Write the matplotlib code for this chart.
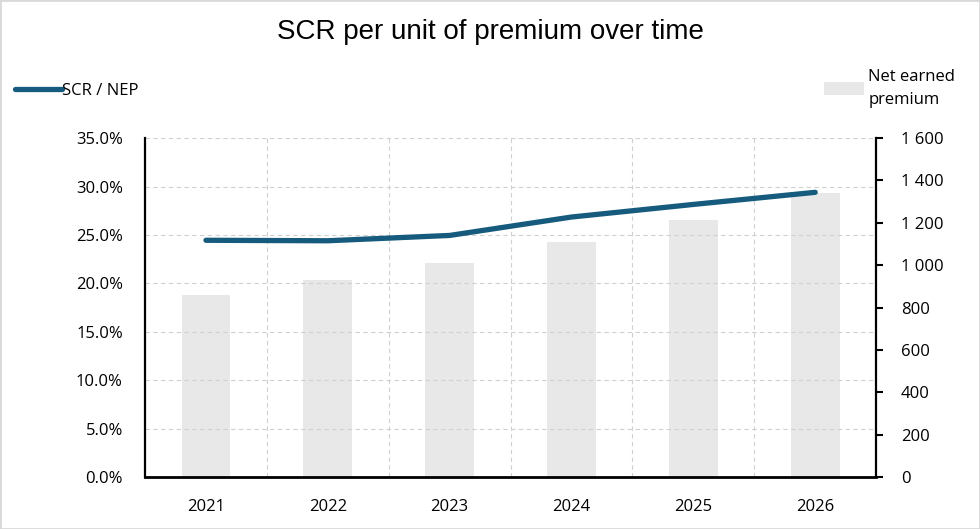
import numpy as np
import matplotlib.pyplot as plt
from matplotlib.ticker import FuncFormatter, FixedLocator

# data
years = ['2021', '2022', '2023', '2024', '2025', '2026']
nep = [860, 930, 1010, 1108, 1212, 1340]
scr_nep = [0.2445, 0.2440, 0.2495, 0.2685, 0.2815, 0.2940]

line_col = '#165b7d'
bar_col = '#e8e8e8'
tick_font = 'Open Sans'

fig = plt.figure(figsize=(9.8, 5.29), dpi=100)
ax = fig.add_axes([0.148, 0.098, 0.746, 0.641])
ax2 = ax.twinx()

x = np.arange(len(years))

# bars on the right axis, line on the left axis
ax2.bar(x, nep, width=0.4, color=bar_col, zorder=1, label='Net earned\npremium')
ax2.set_ylim(0, 1600)
ax2.set_yticks(np.arange(0, 1601, 200))
ax2.yaxis.set_major_formatter(FuncFormatter(lambda v, p: f'{int(v):,}'.replace(',', ' ')))

ax.set_zorder(ax2.get_zorder() + 1)
ax.patch.set_visible(False)
ax.plot(x, scr_nep, color=line_col, lw=3.8, solid_capstyle='round', zorder=5, label='SCR / NEP')
ax.set_ylim(0, 0.35)
ax.set_yticks(np.arange(0, 0.351, 0.05))
ax.yaxis.set_major_formatter(FuncFormatter(lambda v, p: f'{v*100:.1f}%'))
ax.set_xlim(-0.5, 5.5)
ax.set_xticks(x)
ax.set_xticklabels(years)

# dashed grid: horizontal at each tick, vertical between categories
ax.xaxis.set_minor_locator(FixedLocator(x[:-1] + 0.5))
ax.grid(True, axis='y', which='major', ls=(0, (4, 3)), color='#d0d0d0', lw=0.8)
ax.grid(True, axis='x', which='minor', ls=(0, (4, 3)), color='#d0d0d0', lw=0.8)
ax.set_axisbelow(True)
ax2.set_axisbelow(True)

for a in (ax, ax2):
    a.spines['top'].set_visible(False)
    for s in ('left', 'right', 'bottom'):
        a.spines[s].set_color('black')
ax.spines['bottom'].set_linewidth(2)
ax.spines['left'].set_linewidth(1.6)
ax2.spines['right'].set_linewidth(1.6)
ax2.spines['bottom'].set_visible(False)
ax2.spines['left'].set_visible(False)
ax.spines['right'].set_visible(False)

ax.tick_params(axis='y', length=0, pad=16, labelsize=12)
ax.tick_params(axis='x', which='both', length=0, pad=16, labelsize=12)
ax2.tick_params(axis='y', length=5, width=1.5, direction='out', pad=13, labelsize=12)
for lbl in ax.get_yticklabels() + ax.get_xticklabels() + ax2.get_yticklabels():
    lbl.set_fontfamily(tick_font)

fig.text(0.5, 0.94, 'SCR per unit of premium over time', ha='center', va='center',
         fontsize=20, family='Liberation Sans')

fig.legend(handles=ax.get_lines(), loc='center left', bbox_to_anchor=(0.0, 0.828),
           frameon=False, handlelength=2.8, handletextpad=0.05,
           prop={'family': tick_font, 'size': 12})
fig.legend(handles=ax2.containers[0].patches[:1], labels=['Net earned\npremium'],
           loc='upper left', bbox_to_anchor=(0.825, 0.898), frameon=False,
           handlelength=2.4, handleheight=0.8, handletextpad=0.3,
           prop={'family': tick_font, 'size': 12})
for t in fig.legends[1].get_texts():
    t.set_linespacing(1.6)

# light frame around the whole picture
fig.patches.append(plt.Rectangle((0, 0), 1, 1, transform=fig.transFigure, fill=False,
                                 edgecolor='#d9d9d9', lw=2))

fig.savefig('out.png', dpi=100)
